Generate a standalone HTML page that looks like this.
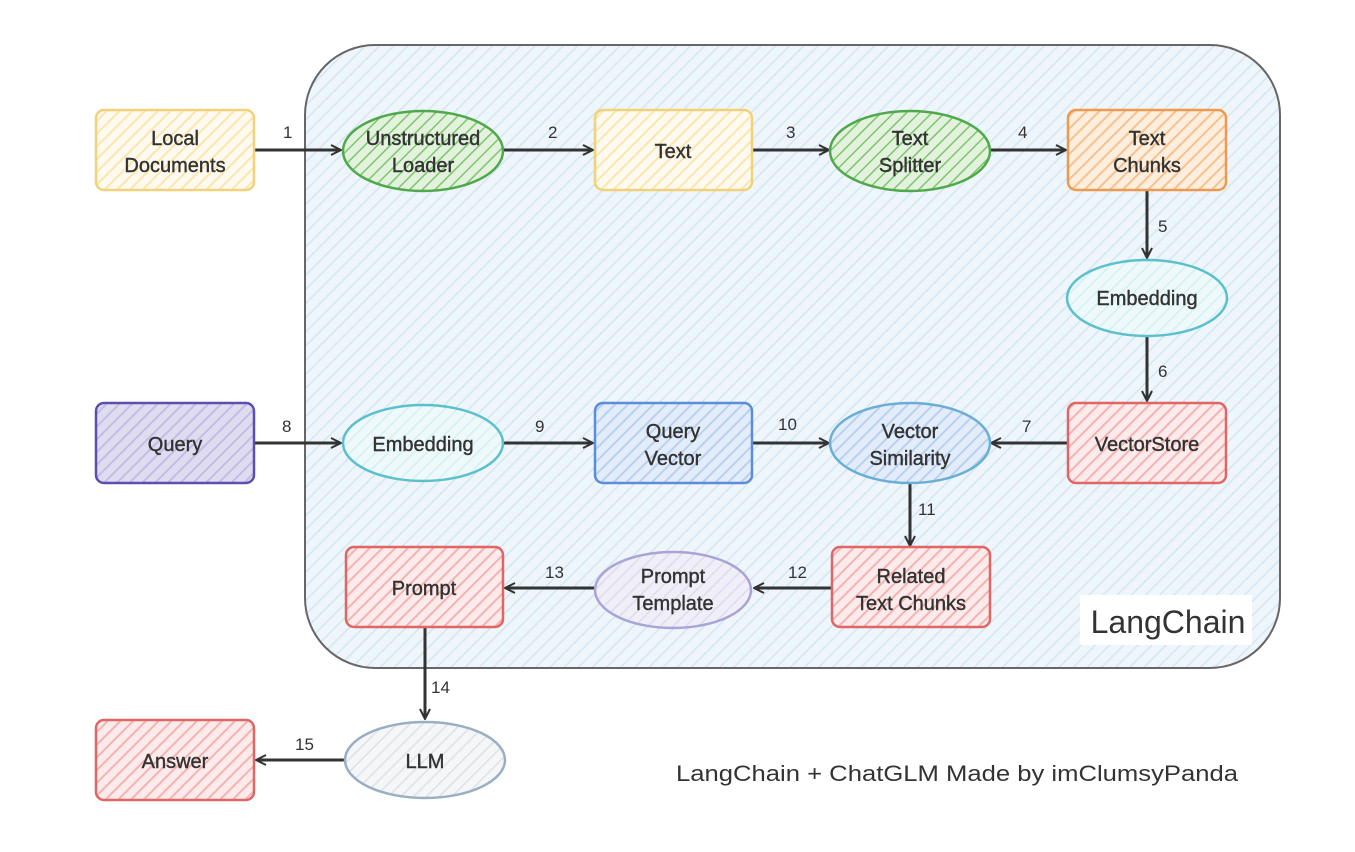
<!DOCTYPE html>
<html><head><meta charset="utf-8"><style>
html,body{margin:0;padding:0;background:#fff;}
svg{display:block;}
text{font-family:"Liberation Sans",sans-serif;fill:#333;}
</style></head><body>
<svg width="1355" height="852" viewBox="0 0 1355 852" xmlns="http://www.w3.org/2000/svg">
<defs>
<pattern id="hb" width="10" height="10" patternUnits="userSpaceOnUse" patternTransform="rotate(45)"><rect width="10" height="10" fill="#eef6fb"/><line x1="0" y1="0" x2="0" y2="10" stroke="#d3e6f2" stroke-width="3"/></pattern>
<pattern id="hy" width="9" height="9" patternUnits="userSpaceOnUse" patternTransform="rotate(45)"><rect width="9" height="9" fill="#fffaf0"/><line x1="0" y1="0" x2="0" y2="9" stroke="#fbe6b0" stroke-width="4"/></pattern>
<pattern id="hg" width="9" height="9" patternUnits="userSpaceOnUse" patternTransform="rotate(45)"><rect width="9" height="9" fill="#e2f2dc"/><line x1="0" y1="0" x2="0" y2="9" stroke="#7dc56f" stroke-width="3"/></pattern>
<pattern id="ho" width="9" height="9" patternUnits="userSpaceOnUse" patternTransform="rotate(45)"><rect width="9" height="9" fill="#fdeedd"/><line x1="0" y1="0" x2="0" y2="9" stroke="#f7c190" stroke-width="4"/></pattern>
<pattern id="ht" width="9" height="9" patternUnits="userSpaceOnUse" patternTransform="rotate(45)"><rect width="9" height="9" fill="#eef9fb"/><line x1="0" y1="0" x2="0" y2="9" stroke="#d6eff3" stroke-width="3"/></pattern>
<pattern id="hr" width="9" height="9" patternUnits="userSpaceOnUse" patternTransform="rotate(45)"><rect width="9" height="9" fill="#fdeaea"/><line x1="0" y1="0" x2="0" y2="9" stroke="#f4b3b3" stroke-width="4"/></pattern>
<pattern id="hp" width="9" height="9" patternUnits="userSpaceOnUse" patternTransform="rotate(45)"><rect width="9" height="9" fill="#e0dcf0"/><line x1="0" y1="0" x2="0" y2="9" stroke="#c3bce6" stroke-width="4"/></pattern>
<pattern id="hq" width="9" height="9" patternUnits="userSpaceOnUse" patternTransform="rotate(45)"><rect width="9" height="9" fill="#e3edfa"/><line x1="0" y1="0" x2="0" y2="9" stroke="#b9d0f0" stroke-width="4"/></pattern>
<pattern id="hl" width="9" height="9" patternUnits="userSpaceOnUse" patternTransform="rotate(45)"><rect width="9" height="9" fill="#f0eff8"/><line x1="0" y1="0" x2="0" y2="9" stroke="#dedbf0" stroke-width="3"/></pattern>
<pattern id="hs" width="9" height="9" patternUnits="userSpaceOnUse" patternTransform="rotate(45)"><rect width="9" height="9" fill="#f4f6f8"/><line x1="0" y1="0" x2="0" y2="9" stroke="#dde2e8" stroke-width="3"/></pattern>
<marker id="ar" markerWidth="12" markerHeight="12" refX="10" refY="6" orient="auto" markerUnits="userSpaceOnUse"><path d="M1,1 L11,6 L1,11" fill="none" stroke="#333" stroke-width="2"/></marker>
</defs>

<rect x="305" y="45" width="975" height="623" rx="70" fill="url(#hb)" stroke="#666" stroke-width="2"/>
<rect x="1080" y="595" width="172" height="50" fill="#fff"/>
<text x="1168" y="633" font-size="32" text-anchor="middle" fill="#111">LangChain</text>

<g stroke="#333" stroke-width="3" fill="none" marker-end="url(#ar)">
<line x1="254" y1="150" x2="340" y2="150"/>
<line x1="503" y1="150" x2="592" y2="150"/>
<line x1="752" y1="150" x2="828" y2="150"/>
<line x1="990" y1="150" x2="1065" y2="150"/>
<line x1="1147" y1="190" x2="1147" y2="257"/>
<line x1="1147" y1="336" x2="1147" y2="400"/>
<line x1="1068" y1="443" x2="992" y2="443"/>
<line x1="254" y1="443" x2="340" y2="443"/>
<line x1="503" y1="443" x2="592" y2="443"/>
<line x1="752" y1="443" x2="828" y2="443"/>
<line x1="910" y1="483" x2="910" y2="545"/>
<line x1="832" y1="588" x2="755" y2="588"/>
<line x1="596" y1="588" x2="506" y2="588"/>
<line x1="425" y1="627" x2="425" y2="718"/>
<line x1="345" y1="760" x2="257" y2="760"/>
</g>
<g font-size="17" fill="#222">
<text x="283" y="138">1</text><text x="548" y="138">2</text><text x="786" y="138">3</text><text x="1018" y="138">4</text>
<text x="1158" y="232">5</text><text x="1158" y="377">6</text><text x="1022" y="432">7</text>
<text x="282" y="432">8</text><text x="535" y="432">9</text><text x="778" y="430">10</text>
<text x="918" y="515">11</text><text x="788" y="578">12</text><text x="545" y="578">13</text>
<text x="431" y="693">14</text><text x="295" y="750">15</text>
</g>

<g stroke-width="2.5">
<rect x="96" y="110" width="158" height="80" rx="8" fill="url(#hy)" stroke="#f1d27a"/>
<ellipse cx="423" cy="151" rx="80" ry="40" fill="url(#hg)" stroke="#4fa84a"/>
<rect x="595" y="110" width="157" height="80" rx="8" fill="url(#hy)" stroke="#f1d27a"/>
<ellipse cx="910" cy="151" rx="80" ry="40" fill="url(#hg)" stroke="#4fa84a"/>
<rect x="1068" y="110" width="158" height="80" rx="8" fill="url(#ho)" stroke="#ee9a4e"/>
<ellipse cx="1147" cy="298" rx="80" ry="38" fill="url(#ht)" stroke="#5cc0cc"/>
<rect x="1068" y="403" width="158" height="80" rx="8" fill="url(#hr)" stroke="#e06666"/>
<rect x="96" y="403" width="158" height="80" rx="8" fill="url(#hp)" stroke="#5b4fb0"/>
<ellipse cx="423" cy="443" rx="80" ry="38" fill="url(#ht)" stroke="#5cc0cc"/>
<rect x="595" y="403" width="157" height="80" rx="8" fill="url(#hq)" stroke="#5b8dd9"/>
<ellipse cx="910" cy="443" rx="80" ry="40" fill="url(#hq)" stroke="#6aaed6"/>
<rect x="832" y="547" width="158" height="80" rx="8" fill="url(#hr)" stroke="#e06666"/>
<ellipse cx="673" cy="590" rx="78" ry="38" fill="url(#hl)" stroke="#a9a4d6"/>
<rect x="346" y="547" width="157" height="80" rx="8" fill="url(#hr)" stroke="#e06666"/>
<ellipse cx="425" cy="760" rx="80" ry="38" fill="url(#hs)" stroke="#9aaec4"/>
<rect x="96" y="720" width="158" height="80" rx="8" fill="url(#hr)" stroke="#e06666"/>
</g>

<g font-size="20" text-anchor="middle" fill="#333" stroke="#333" stroke-width="0.4">
<text x="175" y="145">Local</text><text x="175" y="172">Documents</text>
<text x="423" y="145">Unstructured</text><text x="423" y="172">Loader</text>
<text x="673" y="158">Text</text>
<text x="910" y="145">Text</text><text x="910" y="172">Splitter</text>
<text x="1147" y="145">Text</text><text x="1147" y="172">Chunks</text>
<text x="1147" y="305">Embedding</text>
<text x="1147" y="451">VectorStore</text>
<text x="175" y="451">Query</text>
<text x="423" y="451">Embedding</text>
<text x="673" y="438">Query</text><text x="673" y="465">Vector</text>
<text x="910" y="438">Vector</text><text x="910" y="465">Similarity</text>
<text x="911" y="583">Related</text><text x="911" y="610">Text Chunks</text>
<text x="673" y="583">Prompt</text><text x="673" y="610">Template</text>
<text x="424" y="595">Prompt</text>
<text x="425" y="768">LLM</text>
<text x="175" y="768">Answer</text>
</g>
<text x="676" y="781" font-size="22" textLength="562" lengthAdjust="spacingAndGlyphs" fill="#222">LangChain + ChatGLM Made by imClumsyPanda</text>
</svg>
</body></html>
